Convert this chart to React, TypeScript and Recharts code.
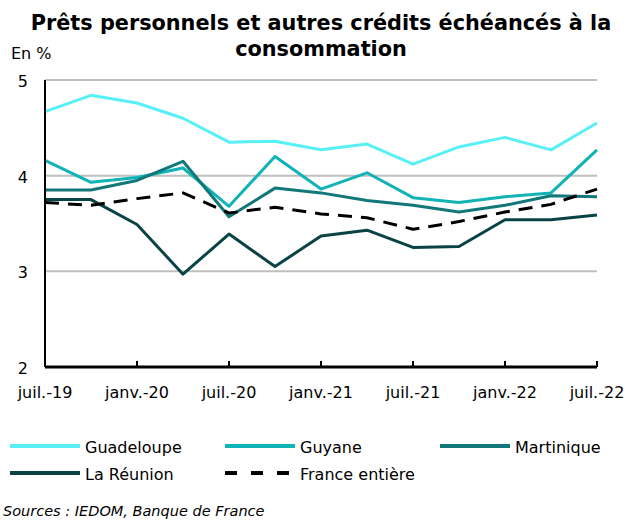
import React from "react";
import { LineChart, Line, XAxis, YAxis, CartesianGrid } from "recharts";

const categories = [
  "juil.-19", "oct.-19", "janv.-20", "avr.-20", "juil.-20", "oct.-20",
  "janv.-21", "avr.-21", "juil.-21", "oct.-21", "janv.-22", "avr.-22", "juil.-22",
];
const guadeloupe = [4.67, 4.84, 4.76, 4.6, 4.35, 4.36, 4.27, 4.33, 4.12, 4.3, 4.4, 4.27, 4.55];
const guyane = [4.16, 3.93, 3.98, 4.08, 3.68, 4.2, 3.86, 4.03, 3.77, 3.72, 3.78, 3.82, 4.27];
const martinique = [3.85, 3.85, 3.95, 4.15, 3.57, 3.87, 3.82, 3.74, 3.69, 3.62, 3.69, 3.79, 3.78];
const reunion = [3.75, 3.75, 3.49, 2.97, 3.39, 3.05, 3.37, 3.43, 3.25, 3.26, 3.54, 3.54, 3.59];
const france = [3.72, 3.69, 3.76, 3.82, 3.61, 3.67, 3.6, 3.56, 3.44, 3.52, 3.62, 3.7, 3.86];
const yTicks = [2, 3, 4, 5];

const title1 = "Prêts personnels et autres crédits échéancés à la";
const title2 = "consommation";
const unitLabel = "En %";
const sourceText = "Sources : IEDOM, Banque de France";

const series = [
  { key: "guadeloupe", name: "Guadeloupe", color: "#58F0F6", dash: undefined as string | undefined },
  { key: "guyane", name: "Guyane", color: "#10B3B6", dash: undefined },
  { key: "martinique", name: "Martinique", color: "#127779", dash: undefined },
  { key: "reunion", name: "La Réunion", color: "#0A4345", dash: undefined },
  { key: "france", name: "France entière", color: "#000000", dash: "14 9" },
];

const data = categories.map((c, i) => ({
  cat: c,
  guadeloupe: guadeloupe[i],
  guyane: guyane[i],
  martinique: martinique[i],
  reunion: reunion[i],
  france: france[i],
}));

const FONT = "'DejaVu Sans', Verdana, sans-serif";

const XTick = (props: any) => {
  const { x, y, payload } = props;
  return (
    <g>
      <line x1={x} x2={x} y1={y - 6} y2={y} stroke="#000" strokeWidth={2} />
      <text x={x} y={y + 31} textAnchor="middle" fontSize={16} fontFamily={FONT} fill="#000">
        {payload.value}
      </text>
    </g>
  );
};

const YTick = (props: any) => {
  const { y, payload } = props;
  return (
    <text x={28} y={y + 7} textAnchor="end" fontSize={16} fontFamily={FONT} fill="#000">
      {payload.value}
    </text>
  );
};

const legendPos = [
  { x: 10, y: 446 },
  { x: 225, y: 446 },
  { x: 440, y: 446 },
  { x: 10, y: 473 },
  { x: 225, y: 473 },
];

export default function App() {
  return (
    <div style={{ position: "absolute", left: 0, top: 0, width: 627, height: 526, background: "#fff", fontFamily: FONT, overflow: "hidden" }}>
      <div style={{ position: "absolute", left: 0, top: 0 }}>
        <LineChart
          width={627}
          height={526}
          data={data}
          margin={{ top: 80, right: 30, bottom: 129, left: 0 }}
          style={{ overflow: "visible" }}
        >
          <CartesianGrid vertical={false} stroke="#BFBFBF" strokeWidth={2} />
          <XAxis
            dataKey="cat"
            interval={1}
            height={30}
            tickLine={false}
            tickSize={0}
            tickMargin={0}
            axisLine={{ stroke: "#000", strokeWidth: 3 }}
            tick={<XTick />}
          />
          <YAxis
            domain={[2, 5]}
            ticks={yTicks}
            width={45}
            tickLine={false}
            axisLine={{ stroke: "#000", strokeWidth: 2 }}
            tick={<YTick />}
          />
          {series.map((s) => (
            <Line
              key={s.key}
              dataKey={s.key}
              name={s.name}
              stroke={s.color}
              strokeWidth={3}
              strokeDasharray={s.dash}
              dot={false}
              activeDot={false}
              isAnimationActive={false}
              strokeLinejoin="round"
            />
          ))}
        </LineChart>
      </div>
      <svg width={627} height={526} style={{ position: "absolute", left: 0, top: 0, pointerEvents: "none" }}>
        <text x={321} y={30} textAnchor="middle" fontSize={20.8} fontWeight="bold" fontFamily={FONT} fill="#000">
          {title1}
        </text>
        <text x={321} y={56} textAnchor="middle" fontSize={20.8} fontWeight="bold" fontFamily={FONT} fill="#000">
          {title2}
        </text>
        <text x={11} y={59} fontSize={16} fontFamily={FONT} fill="#000">
          {unitLabel}
        </text>
        {series.map((s, i) => {
          const p = legendPos[i];
          return (
            <g key={s.key}>
              <line
                x1={p.x}
                x2={p.x + 70}
                y1={p.y}
                y2={p.y}
                stroke={s.color}
                strokeWidth={4}
                strokeDasharray={s.dash ? "12 14" : undefined}
              />
              <text x={p.x + 75} y={p.y + 7} fontSize={16} fontFamily={FONT} fill="#000">
                {s.name}
              </text>
            </g>
          );
        })}
        <text x={3} y={516} fontSize={14.5} fontStyle="italic" fontFamily={FONT} fill="#000">
          {sourceText}
        </text>
      </svg>
    </div>
  );
}
